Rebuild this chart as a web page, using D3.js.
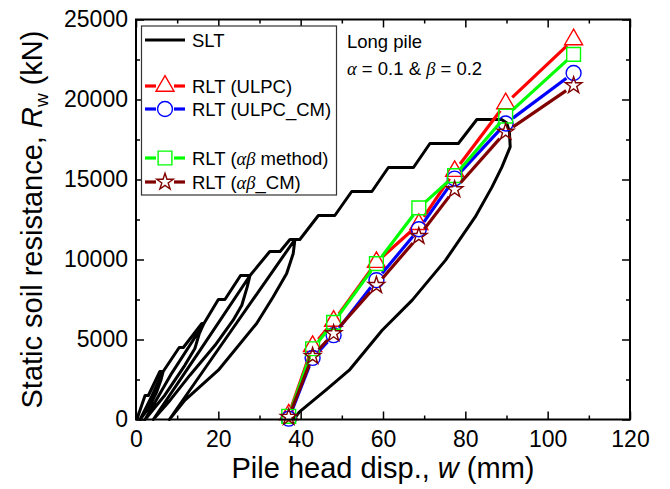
<!DOCTYPE html>
<html>
<head>
<meta charset="utf-8">
<script src="https://cdn.jsdelivr.net/npm/d3@7"></script>
<style>
body{margin:0;background:#fff;}
text{font-family:Arial,"Liberation Sans",sans-serif;fill:#000;}
.gr{font-family:"Liberation Serif","Times New Roman",serif;font-style:italic;}
</style>
</head>
<body>
<div id="chart"></div>
<script>
// RLT results (pile head disp. in mm, resistance in kN)
var rltDisp  = [37.1, 42.9, 48.0, 58.4, 68.7, 77.4, 89.8, 106.3];
var rltULPC  = [300, 4580, 6150, 9830, 12200, 15520, 19750, 23750];
var rltULPCcm = [50, 3850, 5270, 8710, 11890, 15060, 18500, 21660];
var rltAB    = [200, 4420, 6070, 9740, 13225, 15240, 18960, 22820];
var rltABcm  = [150, 3960, 5380, 8390, 11460, 14375, 17975, 20875];

// static load test
var sltDisp = [0.2, 2.2, 3.0, 5.8, 6.6, 6.1, 5.0, 3.0, 1.0, 3.8, 6.6,
  10.5, 11.5, 16.0, 16.5, 15.4, 14.3, 11.9, 7.0, 2.2, 8.7, 16.5,
  20.0, 21.6, 25.4, 27.7, 27.0, 25.7, 23.6, 19.2, 13.1, 8.3, 4.2, 15.5, 27.7,
  32.5, 35.0, 37.4, 38.6, 38.2, 36.6, 33.3, 29.3, 20.0, 11.9, 8.1, 23.0, 38.6,
  39.8, 44.3, 48.3, 52.4, 57.3, 61.3, 67.4, 71.4, 78.3, 82.8, 88.8,
  90.0, 90.7, 90.9, 88.9, 86.5, 82.4, 75.2, 67.1, 59.8, 51.8, 46.1, 39.7, 38.3];
var sltLoad = [0, 1500, 1500, 3000, 3000, 2500, 1700, 700, 0, 1450, 3000,
  4500, 4500, 6000, 6000, 5380, 4440, 3400, 1520, 0, 2900, 6000,
  7500, 7500, 9000, 9000, 8270, 7140, 6210, 4640, 2770, 1210, 0, 4300, 9000,
  10500, 10500, 11250, 11250, 10380, 9130, 7660, 6000, 3080, 1210, 0, 5500, 11250,
  11250, 12750, 12750, 14250, 14250, 15750, 15750, 17250, 17250, 18750, 18750,
  18550, 18000, 17040, 15790, 14540, 12660, 9960, 7460, 5580, 3080, 1830, 475, 0];

var xTicks = [0, 20, 40, 60, 80, 100, 120];
var xMinor = [10, 30, 50, 70, 90, 110];
var yTicks = [0, 5000, 10000, 15000, 20000, 25000];
var yMinor = [2500, 7500, 12500, 17500, 22500];

var W = 670, H = 489;
var margin = {top:19.5, right:40, bottom:69.5, left:136};
var w = W - margin.left - margin.right,
    h = H - margin.top - margin.bottom;

var svg = d3.select("#chart").append("svg")
  .attr("width", W).attr("height", H);
var g = svg.append("g")
  .attr("transform", `translate(${margin.left},${margin.top})`);

var x = d3.scaleLinear().domain([0,120]).range([0,w]);
var y = d3.scaleLinear().domain([0,25000]).range([h,0]);

// axes, ticks pointing inward
function styleAxis(sel){
  sel.select(".domain").remove();
  sel.selectAll(".tick line").attr("stroke","#000").attr("stroke-width",1.5);
  sel.selectAll("text").style("font-size","23px").attr("fill","#000");
}
g.append("g").attr("transform",`translate(0,${h})`)
  .call(d3.axisBottom(x).tickValues(xTicks).tickSize(-8).tickPadding(11))
  .call(styleAxis);
g.append("g").attr("transform",`translate(0,${h})`)
  .call(d3.axisBottom(x).tickValues(xMinor).tickSize(-4).tickFormat(""))
  .call(styleAxis);
g.append("g")
  .call(d3.axisLeft(y).tickValues(yTicks).tickSize(-8).tickPadding(8).tickFormat(d3.format("d")))
  .call(styleAxis);
g.append("g")
  .call(d3.axisLeft(y).tickValues(yMinor).tickSize(-4).tickFormat(""))
  .call(styleAxis);
g.append("g")
  .call(d3.axisTop(x).tickValues(xTicks).tickSize(-8).tickFormat(""))
  .call(styleAxis);
g.append("g")
  .call(d3.axisTop(x).tickValues(xMinor).tickSize(-4).tickFormat(""))
  .call(styleAxis);
g.append("g").attr("transform",`translate(${w},0)`)
  .call(d3.axisRight(y).tickValues(yTicks).tickSize(-8).tickFormat(""))
  .call(styleAxis);
g.append("g").attr("transform",`translate(${w},0)`)
  .call(d3.axisRight(y).tickValues(yMinor).tickSize(-4).tickFormat(""))
  .call(styleAxis);

// SLT curve
var sltLine = d3.line().x(d => x(d[0])).y(d => y(d[1]));
g.append("path")
  .datum(d3.zip(sltDisp, sltLoad))
  .attr("d", sltLine)
  .attr("fill","none").attr("stroke","#000")
  .attr("stroke-width",3).attr("stroke-linejoin","round");

// RLT series: segments stop short of the markers
var series = [
  {vals:rltULPC,   color:"#ff0000", sym:d3.symbolTriangle, size:140},
  {vals:rltULPCcm, color:"#0000ff", sym:d3.symbolCircle,   size:175},
  {vals:rltAB,     color:"#00ff00", sym:d3.symbolSquare,   size:190},
  {vals:rltABcm,   color:"#800000", sym:d3.symbolStar,     size:85}
];
var gap = 9;
series.forEach(function(s){
  var pts = rltDisp.map((d,i) => [x(d), y(s.vals[i])]);
  var gs = g.append("g");
  for(var i=0;i<pts.length-1;i++){
    var p0=pts[i], p1=pts[i+1];
    var dx=p1[0]-p0[0], dy=p1[1]-p0[1], len=Math.sqrt(dx*dx+dy*dy);
    if(len <= 2*gap) continue;
    var ux=dx/len, uy=dy/len;
    gs.append("line")
      .attr("x1",p0[0]+ux*gap).attr("y1",p0[1]+uy*gap)
      .attr("x2",p1[0]-ux*gap).attr("y2",p1[1]-uy*gap)
      .attr("stroke",s.color).attr("stroke-width",3.2);
  }
  gs.selectAll("path").data(pts).enter().append("path")
    .attr("transform", d => `translate(${d[0]},${d[1]})`)
    .attr("d", d3.symbol().type(s.sym).size(s.size))
    .attr("fill","none").attr("stroke",s.color).attr("stroke-width",1.4);
});

// frame
g.append("rect").attr("width",w).attr("height",h)
  .attr("fill","none").attr("stroke","#000").attr("stroke-width",2);

// legend
var lg = svg.append("g");
lg.append("rect").attr("x",141.5).attr("y",26).attr("width",195).attr("height",169)
  .attr("fill","#fff").attr("stroke","#333").attr("stroke-width",1.2);
lg.append("line").attr("x1",145).attr("x2",185).attr("y1",40).attr("y2",40)
  .attr("stroke","#000").attr("stroke-width",3);
lg.append("text").attr("x",192).attr("y",47).style("font-size","18.5px").text("SLT");
var legRows = [86, 109, 158, 182];
series.forEach(function(s,i){
  var yy = legRows[i];
  lg.append("line").attr("x1",145).attr("x2",156).attr("y1",yy).attr("y2",yy)
    .attr("stroke",s.color).attr("stroke-width",3.2);
  lg.append("line").attr("x1",174).attr("x2",185).attr("y1",yy).attr("y2",yy)
    .attr("stroke",s.color).attr("stroke-width",3.2);
  lg.append("path").attr("transform",`translate(165,${yy})`)
    .attr("d", d3.symbol().type(s.sym).size(s.size))
    .attr("fill","none").attr("stroke",s.color).attr("stroke-width",1.4);
});
var t;
lg.append("text").attr("x",192).attr("y",92.5).style("font-size","18.5px").text("RLT (ULPC)");
lg.append("text").attr("x",192).attr("y",115.5).style("font-size","18.5px").text("RLT (ULPC_CM)");
t = lg.append("text").attr("x",192).attr("y",164.5).style("font-size","18.5px");
t.append("tspan").text("RLT (");
t.append("tspan").attr("class","gr").text("αβ");
t.append("tspan").text(" method)");
t = lg.append("text").attr("x",192).attr("y",188.5).style("font-size","18.5px");
t.append("tspan").text("RLT (");
t.append("tspan").attr("class","gr").text("αβ");
t.append("tspan").text("_CM)");

// annotation
svg.append("text").attr("x",347).attr("y",48).style("font-size","18.5px").text("Long pile");
t = svg.append("text").attr("x",347).attr("y",75).style("font-size","18.5px");
t.append("tspan").attr("class","gr").text("α");
t.append("tspan").text(" = 0.1 & ");
t.append("tspan").attr("class","gr").text("β");
t.append("tspan").text(" = 0.2");

// axis titles
t = svg.append("text").attr("x", margin.left + w/2).attr("y",478)
  .attr("text-anchor","middle").style("font-size","29px");
t.append("tspan").text("Pile head disp., ");
t.append("tspan").style("font-style","italic").text("w");
t.append("tspan").text(" (mm)");

t = svg.append("text")
  .attr("transform",`translate(42,${margin.top + h/2}) rotate(-90)`)
  .attr("text-anchor","middle").style("font-size","29px");
t.append("tspan").text("Static soil resistance, ");
t.append("tspan").style("font-style","italic").text("R");
t.append("tspan").attr("dy",6).style("font-size","19px").text("w");
t.append("tspan").attr("dy",-6).text(" (kN)");
</script>
</body>
</html>
